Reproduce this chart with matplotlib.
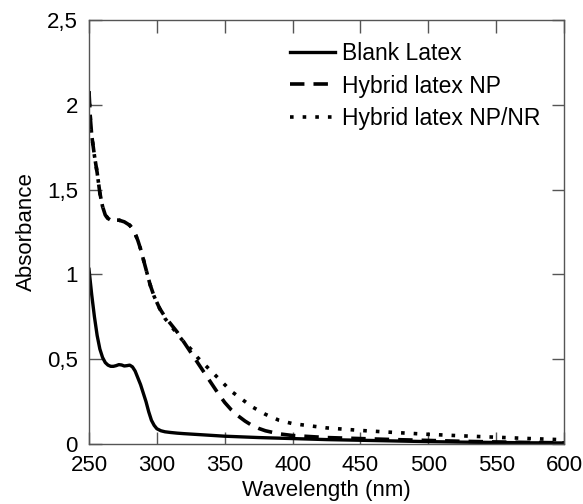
import matplotlib
matplotlib.use("Agg")
import matplotlib.pyplot as plt

plt.rcParams['font.family'] = ['Liberation Sans', 'DejaVu Sans']

# Blank latex
wl_blank = [250, 252, 254, 256, 258, 260, 262, 264, 266, 268, 270, 272, 274, 276, 278, 280, 282,
            284, 286, 288, 290, 292, 294, 296, 298, 300, 303, 306, 310, 315, 320, 330, 340, 350,
            375, 400, 425, 450, 475, 500, 525, 550, 575, 600]
abs_blank = [1.03, 0.88, 0.75, 0.64, 0.56, 0.51, 0.48, 0.465, 0.458, 0.458, 0.462, 0.468, 0.466,
             0.46, 0.462, 0.465, 0.455, 0.43, 0.39, 0.35, 0.30, 0.25, 0.19, 0.14, 0.11, 0.09,
             0.078, 0.072, 0.068, 0.064, 0.061, 0.056, 0.051, 0.046, 0.038, 0.032, 0.026, 0.022,
             0.018, 0.014, 0.011, 0.009, 0.007, 0.006]

# Hybrid latex NP
wl_np = [250, 251, 252, 254, 256, 258, 260, 262, 264, 266, 268, 272, 276, 278, 280, 282, 284,
         286, 288, 290, 292, 295, 298, 302, 306, 310, 315, 320, 325, 330, 335, 340, 345, 350,
         355, 360, 365, 370, 375, 380, 390, 400, 425, 450, 475, 500, 525, 550, 575, 600]
abs_np = [2.08, 1.92, 1.82, 1.70, 1.60, 1.48, 1.40, 1.35, 1.33, 1.32, 1.32, 1.32, 1.31, 1.30,
          1.29, 1.27, 1.24, 1.20, 1.15, 1.09, 1.03, 0.94, 0.87, 0.80, 0.75, 0.71, 0.66, 0.60,
          0.54, 0.48, 0.42, 0.36, 0.30, 0.245, 0.20, 0.165, 0.135, 0.11, 0.092, 0.078, 0.06,
          0.05, 0.038, 0.032, 0.026, 0.021, 0.016, 0.012, 0.009, 0.007]

# Hybrid latex NP/NR
wl_npnr = [250, 251, 252, 254, 256, 258, 260, 262, 264, 266, 268, 272, 276, 278, 280, 282, 284,
           286, 288, 290, 292, 295, 298, 302, 306, 310, 315, 320, 325, 330, 335, 340, 345, 350,
           355, 360, 370, 380, 390, 400, 425, 450, 475, 500, 525, 550, 575, 600]
abs_npnr = [2.08, 1.92, 1.82, 1.70, 1.60, 1.48, 1.40, 1.35, 1.33, 1.32, 1.32, 1.32, 1.31, 1.30,
            1.29, 1.27, 1.24, 1.20, 1.15, 1.09, 1.03, 0.94, 0.87, 0.80, 0.74, 0.70, 0.65, 0.60,
            0.56, 0.51, 0.47, 0.43, 0.39, 0.35, 0.31, 0.28, 0.22, 0.175, 0.14, 0.12, 0.095,
            0.08, 0.068, 0.057, 0.048, 0.04, 0.032, 0.025]

x_ticks = [250, 300, 350, 400, 450, 500, 550, 600]
y_ticks = [0, 0.5, 1, 1.5, 2, 2.5]
y_tick_labels = ["0", "0,5", "1", "1,5", "2", "2,5"]

fig = plt.figure(figsize=(5.83, 5.04), dpi=100)
ax = fig.add_axes([89 / 583, 1 - 444 / 504, (564 - 89) / 583, (444 - 20) / 504])

ax.plot(wl_blank, abs_blank, color='black', lw=2.4, linestyle='-', label='Blank Latex')
ax.plot(wl_np, abs_np, color='black', lw=2.6, linestyle=(0, (4, 2.5)), label='Hybrid latex NP')
ax.plot(wl_npnr, abs_npnr, color='black', lw=2.6, linestyle=(0, (1, 2.5)),
        label='Hybrid latex NP/NR')

ax.set_xlim(250, 600)
ax.set_ylim(0, 2.5)
ax.set_xticks(x_ticks)
ax.set_xticklabels([str(t) for t in x_ticks])
ax.set_yticks(y_ticks)
ax.set_yticklabels(y_tick_labels)
ax.tick_params(axis='both', direction='in', length=9, width=1, top=True, right=True,
               labelsize=16, color='#555555')
ax.tick_params(axis='x', pad=8)
ax.tick_params(axis='y', pad=8)
for s in ax.spines.values():
    s.set_color('#555555')
    s.set_linewidth(1)

ax.set_xlabel('Wavelength (nm)', fontsize=16, labelpad=3)
ax.set_ylabel('Absorbance', fontsize=16, labelpad=7)

leg = ax.legend(loc='upper left', bbox_to_anchor=(0.404, 0.97), frameon=False, fontsize=16.5,
                handlelength=1.95, handletextpad=0.3, labelspacing=0.42, borderaxespad=0)

fig.savefig('out.png', dpi=100)
